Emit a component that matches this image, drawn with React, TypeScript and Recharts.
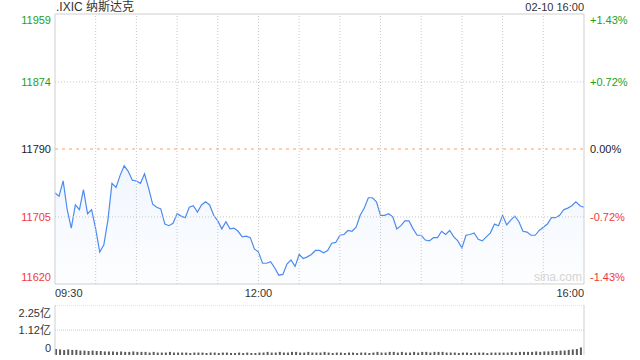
import React from 'react';
import { ComposedChart, Area, Line, XAxis, YAxis, ReferenceLine, BarChart, Bar } from 'recharts';

// price sampled every 3 minutes from 09:30 to 16:00
const prices = [
  11735, 11731, 11750, 11714, 11691, 11720, 11714, 11739, 11709, 11714,
  11690, 11661, 11670, 11701, 11747, 11742, 11757, 11769, 11762, 11751,
  11750, 11747, 11759, 11741, 11721, 11717, 11715, 11696, 11694, 11697,
  11709, 11706, 11704, 11717, 11719, 11711, 11720, 11724, 11720, 11707,
  11700, 11690, 11699, 11690, 11691, 11687, 11680, 11681, 11679, 11665,
  11661, 11647, 11647, 11649, 11641, 11632, 11633, 11646, 11651, 11643,
  11658, 11653, 11655, 11658, 11663, 11663, 11660, 11663, 11672, 11673,
  11682, 11683, 11688, 11687, 11692, 11707, 11716, 11729, 11729, 11724,
  11707, 11707, 11709, 11705, 11690, 11694, 11700, 11700, 11690, 11682,
  11682, 11676, 11675, 11679, 11679, 11687, 11683, 11688, 11680, 11675,
  11666, 11682, 11683, 11685, 11677, 11675, 11680, 11685, 11696, 11694,
  11707, 11695, 11701, 11706, 11699, 11687, 11686, 11682, 11682, 11688,
  11692, 11696, 11704, 11704, 11707, 11714, 11716, 11719, 11724, 11719,
  11717,
];

// volume in 亿, one bar per 3 minutes
const volumes = [
  0.27, 0.25, 0.23, 0.25, 0.23, 0.23,
  0.2, 0.2, 0.18, 0.2, 0.18, 0.18, 0.16,
  0.16, 0.16, 0.14, 0.16, 0.14, 0.14, 0.16, 0.14, 0.14, 0.14, 0.11, 0.14, 0.11,
  0.11, 0.11, 0.14, 0.11, 0.11, 0.11, 0.11, 0.09, 0.11, 0.11, 0.11, 0.09, 0.11, 0.11, 0.09, 0.11, 0.11, 0.09, 0.09, 0.11, 0.09, 0.11, 0.09, 0.09, 0.11,
  0.11, 0.14, 0.11, 0.11, 0.14, 0.11, 0.11, 0.14, 0.14, 0.11, 0.11, 0.14, 0.11, 0.11, 0.11, 0.14, 0.11, 0.09, 0.11, 0.11, 0.09, 0.11, 0.11, 0.09, 0.11, 0.11, 0.09, 0.11, 0.14, 0.11,
  0.11, 0.14, 0.14, 0.11, 0.14, 0.11, 0.11, 0.14, 0.11, 0.14, 0.14, 0.11, 0.14, 0.14, 0.14, 0.11, 0.11, 0.11, 0.09, 0.11, 0.11, 0.09, 0.11, 0.11, 0.11, 0.09, 0.11, 0.11, 0.11, 0.11,
  0.11, 0.14, 0.11, 0.14, 0.14, 0.14, 0.14, 0.16, 0.14, 0.16, 0.16, 0.18, 0.18, 0.2, 0.2, 0.23, 0.25, 0.27, 0.34,
];

const STEP = 3;
const PREV_CLOSE = 11790;
const priceTicks = [11621, 11705, 11790, 11874, 11959];
const priceLabels = ['11620', '11705', '11790', '11874', '11959'];
const pctLabels = ['-1.43%', '-0.72%', '0.00%', '+0.72%', '+1.43%'];
const gridMinutes = [30, 60, 90, 120, 150, 180, 210, 240, 270, 300, 330, 360];
const timeTicks = [0, 150, 390];
const timeLabels = ['09:30', '12:00', '16:00'];
const volTicks = [0, 1.12, 2.25];
const volLabels = ['0', '1.12亿', '2.25亿'];

const FONT = '"Liberation Sans", Arial, "Noto Sans CJK SC", sans-serif';
const GREEN = '#1ea01e';
const RED = '#f03a3a';
const GRID = '#c8c8c8';
const BORDER = '#cfcfcf';

const priceData = prices.map((p, i) => ({ t: i * STEP, price: p }));
const volData = volumes.map((v, i) => ({ t: i * STEP, vol: v }));

const colorFor = (v: number) => (v > PREV_CLOSE ? GREEN : v < PREV_CLOSE ? RED : '#222');

const shiftFor = (i: number, n: number) => (i === n - 1 ? 6 : i === 0 ? -7 : 0);

const LeftTick = (props: any) => {
  const { x, y, payload, index } = props;
  const i = index ?? priceTicks.indexOf(payload.value);
  return (
    <text x={x} y={y + shiftFor(i, priceTicks.length)} dy={4} textAnchor="end" fontSize={11} fontFamily={FONT} fill={colorFor(payload.value)}>
      {priceLabels[i]}
    </text>
  );
};

const RightTick = (props: any) => {
  const { x, y, payload, index } = props;
  const i = index ?? priceTicks.indexOf(payload.value);
  return (
    <text x={x} y={y + shiftFor(i, priceTicks.length)} dy={4} textAnchor="start" fontSize={11} fontFamily={FONT} fill={colorFor(payload.value)}>
      {pctLabels[i]}
    </text>
  );
};

const TimeTick = (props: any) => {
  const { x, y, payload, index } = props;
  const i = index ?? timeTicks.indexOf(payload.value);
  const anchor = i === 0 ? 'start' : i === timeTicks.length - 1 ? 'end' : 'middle';
  return (
    <text x={x} y={y} dy={13} textAnchor={anchor} fontSize={11} fontFamily={FONT} fill="#333">
      {timeLabels[i]}
    </text>
  );
};

const VolTick = (props: any) => {
  const { x, y, payload, index } = props;
  const i = index ?? volTicks.indexOf(payload.value);
  const shift = i === volTicks.length - 1 ? 8 : i === 0 ? -7 : 0;
  return (
    <text x={x} y={y + shift} dy={4} textAnchor="end" fontSize={11} fontFamily={FONT} fill="#333">
      {volLabels[i]}
    </text>
  );
};

export default function App() {
  return (
    <div style={{ position: 'absolute', left: 0, top: 0, width: 640, height: 360, background: '#fff', fontFamily: FONT }}>
      <div style={{ position: 'absolute', left: 56, top: -1, fontSize: 12, color: '#333', lineHeight: '16px' }}>.IXIC 纳斯达克</div>
      <div style={{ position: 'absolute', right: 56, top: 0, fontSize: 11, color: '#333', lineHeight: '14px' }}>02-10 16:00</div>

      <div style={{ position: 'absolute', left: 0, top: 0 }}>
        <ComposedChart width={640} height={300} data={priceData} margin={{ top: 14, right: 0, bottom: 0, left: 0 }}>
          <defs>
            <linearGradient id="areaFill" x1="0" y1="0" x2="0" y2="1">
              <stop offset="0%" stopColor="#4c8bf0" stopOpacity={0.13} />
              <stop offset="100%" stopColor="#4c8bf0" stopOpacity={0.02} />
            </linearGradient>
          </defs>
          <XAxis
            dataKey="t"
            type="number"
            domain={[0, 390]}
            ticks={timeTicks}
            height={16}
            tickLine={false}
            tickSize={0}
            tickMargin={0}
            axisLine={{ stroke: BORDER }}
            tick={<TimeTick />}
            interval={0}
          />
          <YAxis
            yAxisId="left"
            orientation="left"
            width={55}
            domain={[11621, 11959]}
            ticks={priceTicks}
            tickLine={false}
            tickSize={0}
            tickMargin={4}
            axisLine={{ stroke: BORDER }}
            tick={<LeftTick />}
            interval={0}
          />
          <YAxis
            yAxisId="right"
            orientation="right"
            width={56}
            domain={[11621, 11959]}
            ticks={priceTicks}
            tickLine={false}
            tickSize={0}
            tickMargin={6}
            axisLine={{ stroke: BORDER }}
            tick={<RightTick />}
            interval={0}
          />
          {gridMinutes.map((m) => (
            <ReferenceLine key={`v${m}`} yAxisId="left" x={m} stroke={GRID} strokeDasharray="1 2" />
          ))}
          <ReferenceLine yAxisId="left" y={11874} stroke={GRID} strokeDasharray="1 2" />
          <ReferenceLine yAxisId="left" y={11705} stroke={GRID} strokeDasharray="1 2" />
          <ReferenceLine yAxisId="left" y={11959} stroke={BORDER} />
          <Area
            yAxisId="left"
            type="linear"
            dataKey="price"
            stroke="#4c8bf0"
            strokeWidth={1.2}
            fill="url(#areaFill)"
            isAnimationActive={false}
            dot={false}
            activeDot={false}
          />
          <Line
            yAxisId="right"
            type="linear"
            dataKey="price"
            stroke="none"
            dot={false}
            activeDot={false}
            isAnimationActive={false}
          />
          <ReferenceLine yAxisId="left" y={PREV_CLOSE} stroke="#f4a26e" strokeDasharray="3 4" />
        </ComposedChart>
      </div>

      <div style={{ position: 'absolute', left: 534, top: 270, fontSize: 12, color: '#d4d4d4' }}>sina.com</div>

      <div style={{ position: 'absolute', left: 0, top: 305 }}>
        <BarChart width={640} height={50} data={volData} margin={{ top: 0, right: 0, bottom: 0, left: 0 }} barSize={2}>
          <XAxis dataKey="t" hide />
          <YAxis
            yAxisId="left"
            orientation="left"
            width={55}
            domain={[0, 2.25]}
            ticks={volTicks}
            tickLine={false}
            tickSize={0}
            tickMargin={4}
            axisLine={{ stroke: BORDER }}
            tick={<VolTick />}
            interval={0}
          />
          <YAxis yAxisId="right" orientation="right" width={56} domain={[0, 2.25]} tick={false} tickLine={false} axisLine={{ stroke: BORDER }} />
          <ReferenceLine yAxisId="left" y={2.25} stroke={GRID} strokeDasharray="1 1" />
          <ReferenceLine yAxisId="left" y={1.12} stroke={GRID} strokeDasharray="1 1" />
          <Bar yAxisId="left" dataKey="vol" fill="#5c5c5c" isAnimationActive={false} />
          <Bar yAxisId="right" dataKey="vol" fill="none" isAnimationActive={false} />
        </BarChart>
      </div>
    </div>
  );
}
